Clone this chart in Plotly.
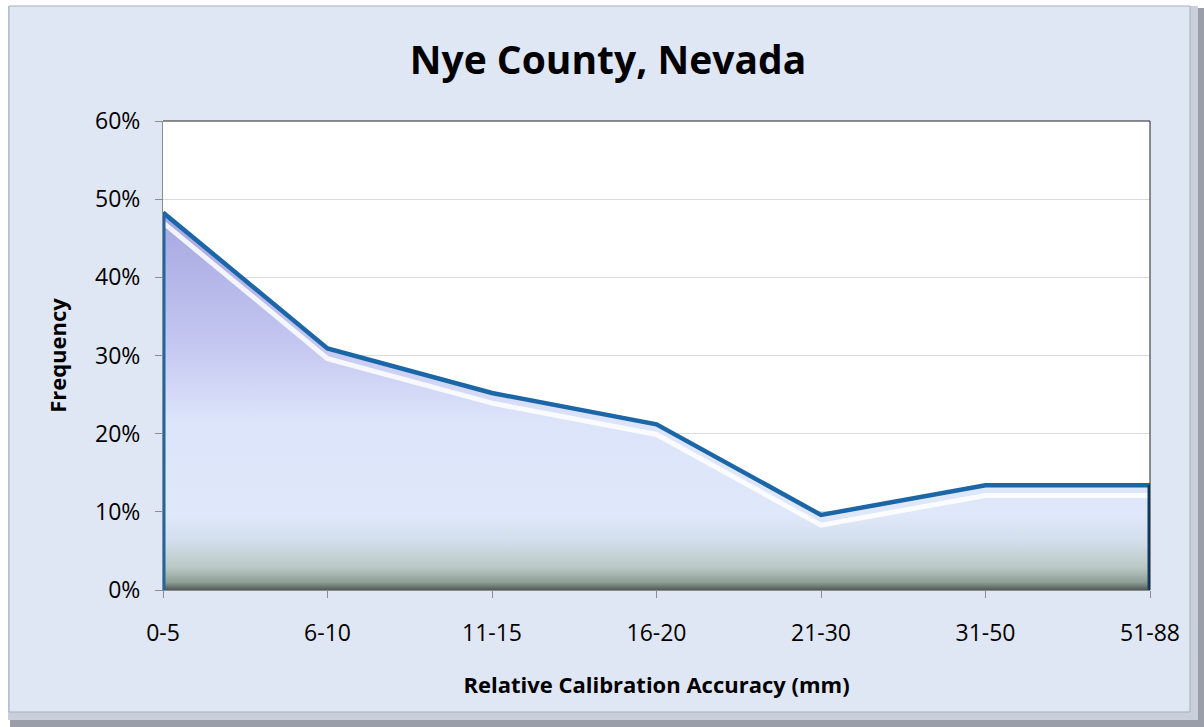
import plotly.graph_objects as go
import numpy as np

categories = ["0-5", "6-10", "11-15", "16-20", "21-30", "31-50", "51-88"]
frequency = [48.3, 30.9, 25.2, 21.2, 9.6, 13.4, 13.4]  # percent
y_ticks = [0, 10, 20, 30, 40, 50, 60]
y_tick_labels = [f"{v}%" for v in y_ticks]

FONT = "'Open Sans', Lato, sans-serif"
LINE_BLUE = "#1B66A6"

fig = go.Figure()

# filled area with vertical gradient
fig.add_trace(go.Scatter(
    x=categories, y=frequency, mode="none", fill="tozeroy",
    fillgradient=dict(
        type="vertical", start=0, stop=max(frequency),
        colorscale=[
            [0.0, "#4F5A55"],
            [0.02, "#8E9D96"],
            [0.06, "#B9C9C4"],
            [0.13, "#D3DEEC"],
            [0.2, "#DFE8FA"],
            [0.45, "#DCE4FA"],
            [0.65, "#C4C7F0"],
            [1.0, "#A5A6E1"],
        ],
    ),
    hoverinfo="skip", showlegend=False,
))

# white highlight under the line
hl = np.array(frequency) - 1.3
fig.add_trace(go.Scatter(
    x=categories, y=hl, mode="lines",
    line=dict(color="rgba(255,255,255,0.85)", width=5),
    hoverinfo="skip", showlegend=False,
))

# main line
fig.add_trace(go.Scatter(
    x=categories, y=frequency, mode="lines",
    line=dict(color=LINE_BLUE, width=4.5),
    hoverinfo="skip", showlegend=False,
))

# side edges of the area
fig.add_trace(go.Scatter(
    x=[categories[0], categories[0]], y=[0, frequency[0]], mode="lines",
    line=dict(color=LINE_BLUE, width=5), hoverinfo="skip", showlegend=False,
))
fig.add_trace(go.Scatter(
    x=[categories[-1], categories[-1]], y=[0, frequency[-1]], mode="lines",
    line=dict(color="#0E3F6B", width=5), hoverinfo="skip", showlegend=False,
))

W, H = 1204, 727
L, R, T, B = 163, 54, 121, 137
pw, ph = W - L - R, H - T - B

def px(x):
    return (x - L) / pw

def py(y):
    return (H - B - y) / ph

shapes = [
    # outer shadow
    dict(type="rect", xref="paper", yref="paper", x0=px(10), x1=px(1204), y0=py(727), y1=py(8),
         fillcolor="#9A9EA8", line=dict(width=0), layer="below"),
    dict(type="rect", xref="paper", yref="paper", x0=px(8), x1=px(1198), y0=py(720), y1=py(6),
         fillcolor="#C9CFDB", line=dict(width=0), layer="below"),
    # chart area
    dict(type="rect", xref="paper", yref="paper", x0=px(9), x1=px(1190), y0=py(712), y1=py(6),
         fillcolor="#E0E7F4", line=dict(color="#A9AEB8", width=1), layer="below"),
    # plot area background
    dict(type="rect", xref="paper", yref="paper", x0=0, x1=1, y0=0, y1=1,
         fillcolor="#FFFFFF", line=dict(width=0), layer="below"),
    # plot area border top/right
    dict(type="line", xref="paper", yref="paper", x0=0, x1=1, y0=1, y1=1,
         line=dict(color="#222222", width=1)),
    dict(type="line", xref="paper", yref="paper", x0=1, x1=1, y0=0, y1=1,
         line=dict(color="#222222", width=1)),
]

fig.update_layout(
    width=W, height=H,
    margin=dict(l=L, r=R, t=T, b=B),
    paper_bgcolor="#FFFFFF",
    plot_bgcolor="#FFFFFF",
    shapes=shapes,
    title=dict(text="<b>Nye County, Nevada</b>", x=608 / W, xanchor="center",
               y=1 - 60 / H, yanchor="middle",
               font=dict(family=FONT, size=39, color="#000000")),
    font=dict(family=FONT, color="#000000"),
    xaxis=dict(
        type="category", range=[0, len(categories) - 1],
        showgrid=False, zeroline=False,
        showline=True, linecolor="#8C8C8C", linewidth=1,
        ticks="outside", ticklen=7, tickcolor="#8C8C8C",
        tickfont=dict(size=23, family=FONT),
        ticklabelstandoff=15,
        title=dict(text="<b>Relative Calibration Accuracy (mm)</b>",
                   font=dict(size=22, family=FONT), standoff=31),
    ),
    yaxis=dict(
        range=[0, 60], tickvals=y_ticks, ticktext=y_tick_labels,
        showgrid=True, gridcolor="#DADADA", gridwidth=1, zeroline=False,
        showline=True, linecolor="#8C8C8C", linewidth=1,
        ticks="outside", ticklen=7, tickcolor="#8C8C8C",
        tickfont=dict(size=23, family=FONT),
        ticklabelstandoff=10,
        title=dict(text="<b>Frequency</b>", font=dict(size=22, family=FONT), standoff=22),
    ),
)

fig.write_html("out.html")
